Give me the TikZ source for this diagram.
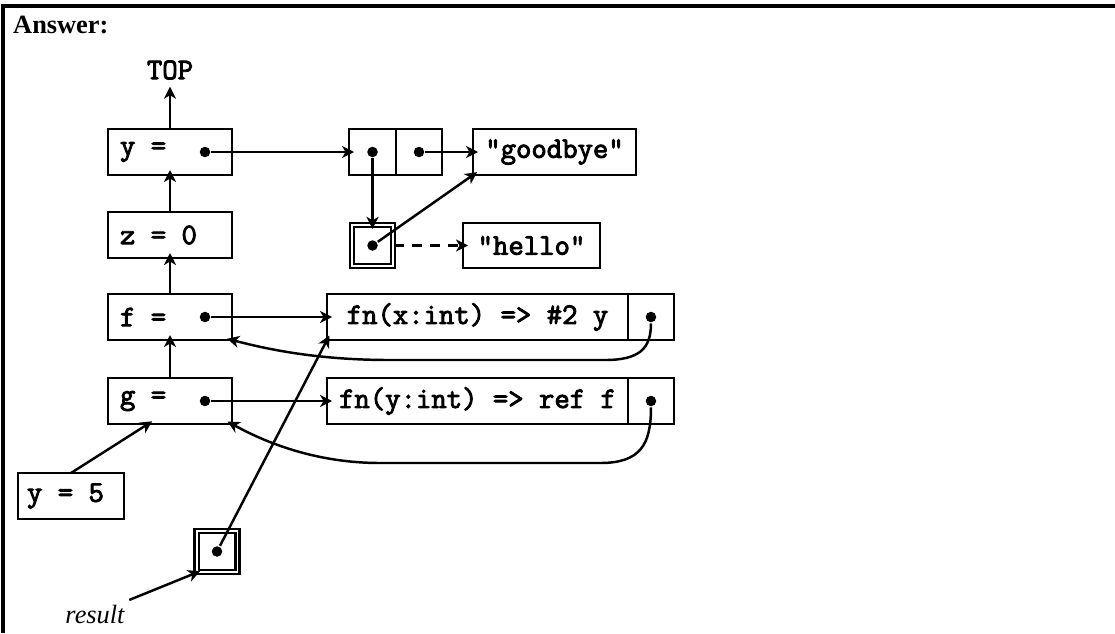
\documentclass[tikz,border=0pt]{standalone}
\usepackage{fontspec}
\setmainfont{Liberation Serif}
\newfontfamily\codefont{Latin Modern Mono}[FakeBold=3]
\usetikzlibrary{arrows.meta}
\begin{document}
\begin{tikzpicture}[x=0.02cm,y=-0.02cm,line width=1.4pt,
  >={Stealth[length=2.4mm,width=2.4mm,inset=0.7mm]},
  font=\fontsize{15}{18}\selectfont,
  code/.style={font=\fontsize{17}{20}\selectfont\codefont},
  cell/.style={code,draw,minimum height=0.92cm,inner sep=0pt,outer sep=0pt},
  var/.style={cell,inner xsep=0.24cm},
  ref/.style={draw,double,double distance=0.04cm,line width=0.045cm,minimum size=0.82cm,inner sep=0pt},
  dot/.style={circle,fill,inner sep=0pt,minimum size=0.21cm},
  link/.style={->,shorten >=-0.1cm}]
\useasboundingbox (0,0) rectangle (1115,633);
\draw[line width=2pt] (1115,6) -- (3,6) -- (3,633);
\node[anchor=base west,inner sep=0pt,font=\fontsize{15}{18}\selectfont\bfseries] (ans) at (12,33) {Answer:};
% stack of frames
\node[code,inner sep=0.22cm] (top) at (170,70) {TOP};
\node[var] (ybox) at (170,152) {\makebox[2cm][l]{y =}};
\node[var] (zbox) at (170,235) {\makebox[2cm][l]{z = 0}};
\node[var] (fbox) at (170,317) {\makebox[2cm][l]{f =}};
\node[var] (gbox) at (170,401) {\makebox[2cm][l]{g =}};
\node[var,inner xsep=0.18cm] (y5box) at (71,496) {\makebox[1.76cm][l]{y = 5}};
% heap
\node[cell,minimum width=0.94cm] (hd) at (372.5,152) {};
\node[cell,minimum width=0.92cm,anchor=west] (tl) at (hd.east) {};
\node[cell,minimum width=3.26cm] (bye) at (554.5,152) {"goodbye"};
\node[ref] (r1) at (372.5,245.5) {};
\node[cell,minimum width=2.74cm,minimum height=0.9cm] (hi) at (531.5,245.5) {"hello"};
\node[cell,minimum width=6.02cm] (fnx) at (477.5,317) {fn(x:int) => \#2 y};
\node[cell,minimum width=0.92cm,anchor=west] (envx) at (fnx.east) {};
\node[cell,minimum width=6.02cm] (fny) at (477.5,401) {fn(y:int) => ref f};
\node[cell,minimum width=0.92cm,anchor=west] (envy) at (fny.east) {};
\node[ref] (r2) at (217,551.5) {};
\node[font=\fontsize{15}{18}\selectfont\itshape,inner sep=2pt] (res) at (95,614) {result};
% pointers
\node[dot] (yd) at (205,152) {};
\node[dot] (fd) at (205,317) {};
\node[dot] (gd) at (205,401) {};
\node[dot] (hdd) at (hd) {};
\node[dot] (tld) at (tl) {};
\node[dot] (r1d) at (r1) {};
\node[dot] (exd) at (envx) {};
\node[dot] (eyd) at (envy) {};
\node[dot] (r2d) at (r2) {};
\draw[link] (ybox) -- (top);
\draw[link] (zbox) -- (ybox);
\draw[link] (fbox) -- (zbox);
\draw[link] (gbox) -- (fbox);
\draw[link] (yd) -- (hd);
\draw[link] (hdd) -- (r1);
\draw[link] (tld) -- (bye);
\draw[link] (r1d) -- (bye.south west);
\draw[link,dash pattern=on 0.2cm off 0.16cm] (r1) -- (hi);
\draw[link] (fd) -- (fnx);
\draw[link] (gd) -- (fny);
\draw[link] (exd) .. controls (651,348) and (640,360) .. (605,360) -- (390,360) .. controls (320,360) and (270,350) .. (fbox.south east);
\draw[link] (eyd) .. controls (651,445) and (640,463) .. (600,463) -- (380,463) .. controls (320,463) and (270,445) .. (gbox.south east);
\draw[link] (y5box.north) -- ([xshift=-0.44cm]gbox.south);
\draw[link] (r2d) -- (fnx.south west);
\draw[link] (res.north east) -- (r2.south west);
\end{tikzpicture}
\end{document}
